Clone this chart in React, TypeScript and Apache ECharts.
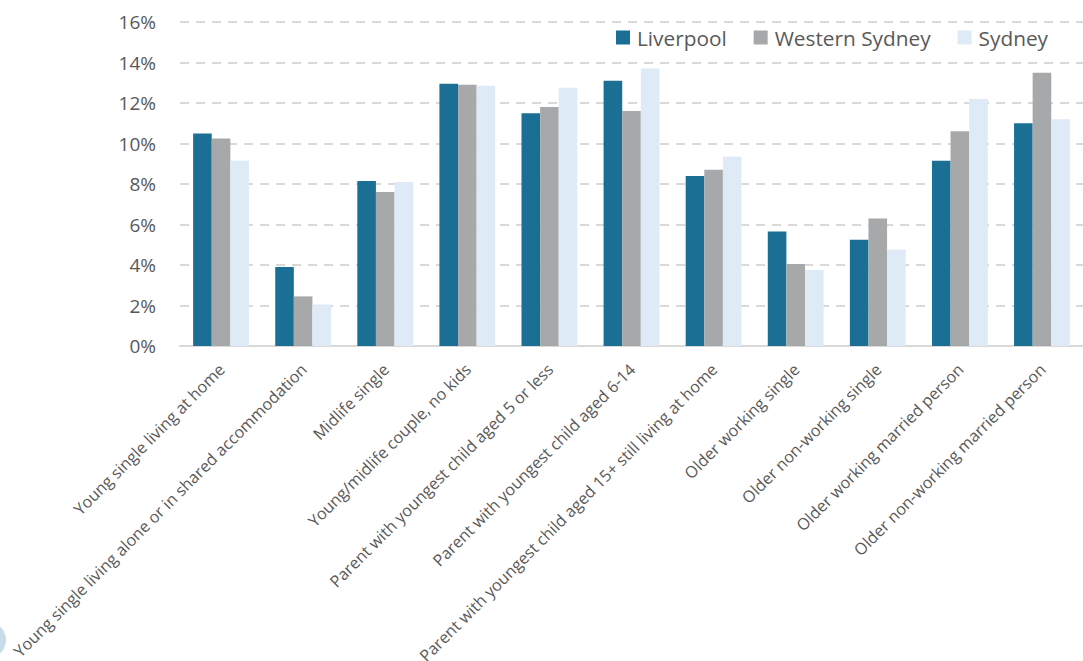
import React, { useEffect, useRef } from "react";
import * as echarts from "echarts";

const categories = [
  "Young single living at home",
  "Young single living alone or in shared accommodation",
  "Midlife single",
  "Young/midlife couple, no kids",
  "Parent with youngest child aged 5 or less",
  "Parent with youngest child aged 6-14",
  "Parent with youngest child aged 15+ still living at home",
  "Older working single",
  "Older non-working single",
  "Older working married person",
  "Older non-working married person",
];

const liverpool = [10.5, 3.9, 8.15, 12.95, 11.5, 13.1, 8.4, 5.65, 5.25, 9.15, 11.0];
const westernSydney = [10.25, 2.45, 7.6, 12.9, 11.8, 11.6, 8.7, 4.05, 6.3, 10.6, 13.5];
const sydney = [9.15, 2.05, 8.1, 12.85, 12.75, 13.7, 9.35, 3.75, 4.75, 12.2, 11.2];

const seriesNames = ["Liverpool", "Western Sydney", "Sydney"];
const seriesColors = ["#1b6f94", "#a7a8aa", "#deeaf6"];

const FONT = "'Open Sans', 'Noto Sans', sans-serif";

export default function App() {
  const ref = useRef<HTMLDivElement>(null);
  useEffect(() => {
    document.body.style.margin = "0";
    const chart = echarts.init(ref.current!, null, { renderer: "svg" });
    const data = [liverpool, westernSydney, sydney];
    chart.setOption({
      animation: false,
      textStyle: { fontFamily: FONT },
      grid: {
        left: 180,
        right: 0,
        top: 22,
        bottom: 315,
        containLabel: false,
        outerBoundsMode: "none",
      },
      legend: {
        left: 611,
        top: 22,
        itemWidth: 14,
        itemHeight: 14,
        itemGap: 27,
        icon: "rect",
        textStyle: {
          fontSize: 20.8,
          color: "#595959",
          fontFamily: FONT,
          padding: [0, 0, 0, 2],
        },
        data: seriesNames,
      },
      xAxis: {
        type: "category",
        data: categories,
        axisLine: { show: true, lineStyle: { color: "#d9d9d9", width: 2 } },
        axisTick: { show: false },
        axisLabel: {
          rotate: 45,
          interval: 0,
          margin: 10,
          fontSize: 16.2,
          color: "#595959",
          fontFamily: FONT,
          verticalAlign: "top",
          padding: [0, 7, 0, 0],
        },
      },
      yAxis: {
        type: "value",
        min: 0,
        max: 16,
        interval: 2,
        axisLine: { show: false },
        axisTick: { show: false },
        axisLabel: {
          formatter: "{value}%",
          fontSize: 19,
          color: "#595959",
          margin: 24,
          fontFamily: FONT,
        },
        splitLine: {
          show: true,
          lineStyle: { color: "#d9d9d9", width: 2, type: [9, 7] },
        },
      },
      series: seriesNames.map((name, i) => ({
        name,
        type: "bar",
        data: data[i],
        barGap: "0%",
        barCategoryGap: "32%",
        itemStyle: { color: seriesColors[i] },
      })),
      graphic: [
        {
          type: "circle",
          shape: { cx: -12, cy: 640, r: 18 },
          style: { fill: "#b9d3e4", opacity: 0.8 },
        },
      ],
    });
    return () => chart.dispose();
  }, []);
  return <div ref={ref} style={{ width: 1083, height: 661 }} />;
}
